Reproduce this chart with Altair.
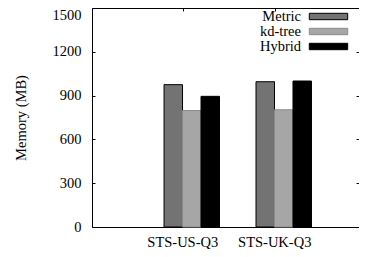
import altair as alt
import pandas as pd

groups = ["STS-US-Q3", "STS-UK-Q3"]
series = ["Metric", "kd-tree", "Hybrid"]
metric = [975, 995]
kdtree = [798, 803]
hybrid = [895, 1000]
y_ticks = [0, 300, 600, 900, 1200, 1500]
colors = ["#737373", "#a6a6a6", "#000000"]
edge_colors = ["#000000", "#8c8c8c", "#000000"]

rows = []
for i, g in enumerate(groups):
    for s, vals in zip(series, [metric, kdtree, hybrid]):
        rows.append({"group": g, "series": s, "memory": vals[i]})
df = pd.DataFrame(rows)

FONT = "Liberation Serif"
FS = 14.5

x_scale = alt.Scale(domain=groups, paddingInner=0.397, paddingOuter=0.65, align=0.6025)
y_scale = alt.Scale(domain=[0, 1500], nice=False)

base = alt.Chart(df)

bars = base.mark_bar(strokeWidth=1).encode(
    x=alt.X("group:N", scale=x_scale, sort=groups,
            axis=alt.Axis(title=None, orient="bottom", ticks=False, domain=False,
                          labelAngle=0, labelOffset={"expr": "-9"}, labelPadding=8,
                          labelFont=FONT, labelFontSize=FS, labelColor="black")),
    xOffset=alt.XOffset("series:N", sort=series, scale=alt.Scale(domain=series)),
    y=alt.Y("memory:Q", scale=y_scale,
            axis=alt.Axis(title="Memory (MB)", orient="left", values=y_ticks,
                          format="d", offset=-3, tickSize=3, tickColor="black",
                          domain=False, grid=False, labelPadding=11,
                          labelBaseline={"condition": {"test": "datum.value == 1500",
                                                       "value": "top"},
                                         "value": "middle"},
                          labelFont=FONT, labelFontSize=FS, labelColor="black",
                          titleFont=FONT, titleFontSize=FS, titleFontWeight="normal",
                          titleColor="black", titlePadding=24)),
    fill=alt.Fill("series:N", sort=series,
                  scale=alt.Scale(domain=series, range=colors),
                  legend=alt.Legend(title=None, orient="none", legendX=228, legendY=0,
                                    symbolType="M-2.4,-0.4L2.4,-0.4L2.4,0.4L-2.4,0.4Z",
                                    symbolSize=256, symbolStrokeColor="black",
                                    symbolStrokeWidth=1, symbolOpacity=1,
                                    labelAlign="right", labelOffset={"expr": "-36"},
                                    labelFont=FONT, labelFontSize=FS,
                                    labelColor="black", rowPadding=0, padding=0)),
    stroke=alt.Stroke("series:N", sort=series,
                      scale=alt.Scale(domain=series, range=edge_colors), legend=None),
)

mirror = base.mark_bar(opacity=0).encode(
    x=alt.X("group:N", scale=x_scale, sort=groups,
            axis=alt.Axis(title=None, orient="top", labels=False, domain=False,
                          offset=-3, tickSize=3, tickColor="black", tickOffset=-9)),
    y=alt.Y("memory:Q", scale=y_scale,
            axis=alt.Axis(title=None, orient="right", values=y_ticks, labels=False,
                          domain=False, grid=False, offset=-3, tickSize=3,
                          tickColor="black")),
)

chart = (
    alt.layer(bars, mirror)
    .resolve_axis(x="independent", y="independent")
    .properties(width=267, height=219,
                autosize=alt.AutoSizeParams(type="none"),
                padding={"left": 84, "top": 0, "right": 0, "bottom": 22})
    .configure_view(stroke="black", strokeWidth=1)
)

chart.save("out.html", embed_options={"renderer": "svg", "actions": False})
